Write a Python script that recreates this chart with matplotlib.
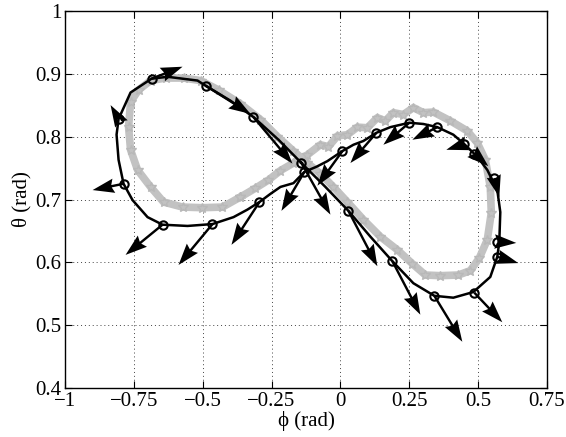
import matplotlib
matplotlib.use("Agg")
import matplotlib.pyplot as plt
import numpy as np

# measured trajectory (black line), phi / theta in rad
phi_traj = [-0.1415, -0.0544, 0.0290, 0.1088, 0.1887, 0.2649, 0.3410, 0.4100,
            0.4826, 0.5442, 0.5696, 0.5769, 0.5805, 0.5696, 0.5333, 0.4970,
            0.4499, 0.4100, 0.3519, 0.3011, 0.2503, 0.1814, 0.1306, 0.0834,
            0.0472, 0.0073, -0.0472, -0.0871, -0.1306, -0.1705, -0.2177,
            -0.2540, -0.2939, -0.3374, -0.3882, -0.4644, -0.5551, -0.6458,
            -0.7002, -0.7546, -0.7873, -0.8054, -0.8127, -0.8054, -0.7619,
            -0.6857, -0.6276, -0.5188, -0.4898, -0.3991, -0.3156, -0.2249,
            -0.1415]
theta_traj = [0.758, 0.720, 0.682, 0.641, 0.602, 0.567, 0.547, 0.544, 0.553,
              0.577, 0.609, 0.633, 0.680, 0.715, 0.747, 0.768, 0.788, 0.803,
              0.815, 0.820, 0.822, 0.815, 0.806, 0.793, 0.787, 0.777, 0.761,
              0.752, 0.744, 0.726, 0.720, 0.709, 0.696, 0.684, 0.672, 0.661,
              0.658, 0.660, 0.672, 0.699, 0.725, 0.763, 0.803, 0.828, 0.870,
              0.892, 0.895, 0.889, 0.881, 0.857, 0.831, 0.795, 0.758]

# reference trajectory (grey asterisks)
phi_ref = [-0.3628, -0.3084, -0.2612, -0.2177, -0.1705, -0.1197, -0.0726,
           -0.0435, -0.0109, 0.0254, 0.0617, 0.0980, 0.1342, 0.1633, 0.1923,
           0.2286, 0.2649, 0.3011, 0.3374, 0.3991, 0.4608, 0.4970, 0.5261,
           0.5442, 0.5478, 0.5333, 0.5043, 0.4716, 0.4281, 0.3628, 0.3084,
           0.2612, 0.2068, 0.1451, 0.0834, 0.0254, -0.0254, -0.0726, -0.1197,
           -0.1705, -0.2286, -0.2902, -0.3628, -0.4426, -0.5079, -0.5696,
           -0.6349, -0.6893, -0.7329, -0.7619, -0.7691, -0.7619, -0.7365,
           -0.6893, -0.6422, -0.5732, -0.5007, -0.4281, -0.3628]
theta_ref = [0.704, 0.718, 0.731, 0.746, 0.758, 0.771, 0.787, 0.784, 0.801,
             0.803, 0.815, 0.814, 0.830, 0.825, 0.838, 0.835, 0.846, 0.838,
             0.839, 0.825, 0.809, 0.790, 0.763, 0.720, 0.679, 0.636, 0.607,
             0.587, 0.580, 0.579, 0.580, 0.598, 0.620, 0.641, 0.668, 0.696,
             0.720, 0.741, 0.758, 0.777, 0.800, 0.827, 0.852, 0.874, 0.889,
             0.893, 0.893, 0.889, 0.874, 0.855, 0.815, 0.779, 0.747, 0.720,
             0.696, 0.688, 0.687, 0.688, 0.704]

# sample points with their velocity arrows (base -> tip)
phi_pts = [-0.1415, -0.1306, 0.0290, 0.1887, 0.3410, 0.4862, 0.5696, 0.5696,
           0.5587, 0.4862, 0.4499, 0.3519, 0.2503, 0.1306, 0.0073, -0.2939,
           -0.4644, -0.6458, -0.7873, -0.8054, -0.6857, -0.4898, -0.3156]
theta_pts = [0.758, 0.744, 0.682, 0.602, 0.547, 0.552, 0.609, 0.633, 0.734,
             0.773, 0.788, 0.815, 0.822, 0.806, 0.777, 0.696, 0.661, 0.660,
             0.725, 0.828, 0.892, 0.881, 0.831]
phi_tip = [-0.0363, -0.2141, 0.1342, 0.2902, 0.4426, 0.5877, 0.6458, 0.6385,
           0.5769, 0.5369, 0.3846, 0.2612, 0.1560, 0.0363, -0.0834, -0.3955,
           -0.5877, -0.7800, -0.8997, -0.8344, -0.5732, -0.3265, -0.1741]
theta_tip = [0.676, 0.682, 0.594, 0.517, 0.474, 0.505, 0.599, 0.631, 0.704,
             0.753, 0.779, 0.795, 0.787, 0.758, 0.722, 0.628, 0.596, 0.612,
             0.715, 0.850, 0.911, 0.836, 0.757]

xticks = [-1, -0.75, -0.5, -0.25, 0, 0.25, 0.5, 0.75]
xtick_labels = ['\u22121', '\u22120.75', '\u22120.5', '\u22120.25', '0',
                '0.25', '0.5', '0.75']
yticks = [0.4, 0.5, 0.6, 0.7, 0.8, 0.9, 1.0]
ytick_labels = ['0.4', '0.5', '0.6', '0.7', '0.8', '0.9', '1']

plt.rcParams['font.family'] = ['Liberation Serif', 'DejaVu Serif']
plt.rcParams['font.size'] = 15

fig = plt.figure(figsize=(5.66, 4.37), dpi=100)
ax = fig.add_axes([0.1148, 0.1114, 0.8516, 0.8641])

# grey reference path, drawn as a thick band of asterisks
ax.plot(phi_ref, theta_ref, color='#c2c2c2', lw=5.5, marker='*',
        markersize=7, mec='#b8b8b8', zorder=2, solid_joinstyle='round')
ax.plot(phi_traj, theta_traj, color='k', lw=1.8, zorder=3)

ax.plot(phi_pts, theta_pts, 'o', mfc='none', mec='k', mew=1.5,
        markersize=6, zorder=3.5)
u = np.array(phi_tip) - np.array(phi_pts)
v = np.array(theta_tip) - np.array(theta_pts)
ax.quiver(phi_pts, theta_pts, u, v, angles='xy', scale_units='xy', scale=1,
          width=0.005, headwidth=6, headlength=9, headaxislength=8,
          minshaft=0.01, minlength=0, color='k', zorder=4)

ax.set_xlim(-1, 0.75)
ax.set_ylim(0.4, 1)
ax.set_xticks(xticks)
ax.set_xticklabels(xtick_labels)
ax.set_yticks(yticks)
ax.set_yticklabels(ytick_labels)
ax.tick_params(direction='in', length=5, width=0.8, top=True, right=True,
               pad=2.5)
ax.grid(True, linestyle=(0, (1, 3)), color='#444444', lw=0.7)
for s in ax.spines.values():
    s.set_linewidth(1.0)

ax.set_xlabel('\u03d5 (rad)', labelpad=0)
ax.set_ylabel('\u03b8 (rad)', labelpad=3)

fig.savefig('out.png', dpi=100)
